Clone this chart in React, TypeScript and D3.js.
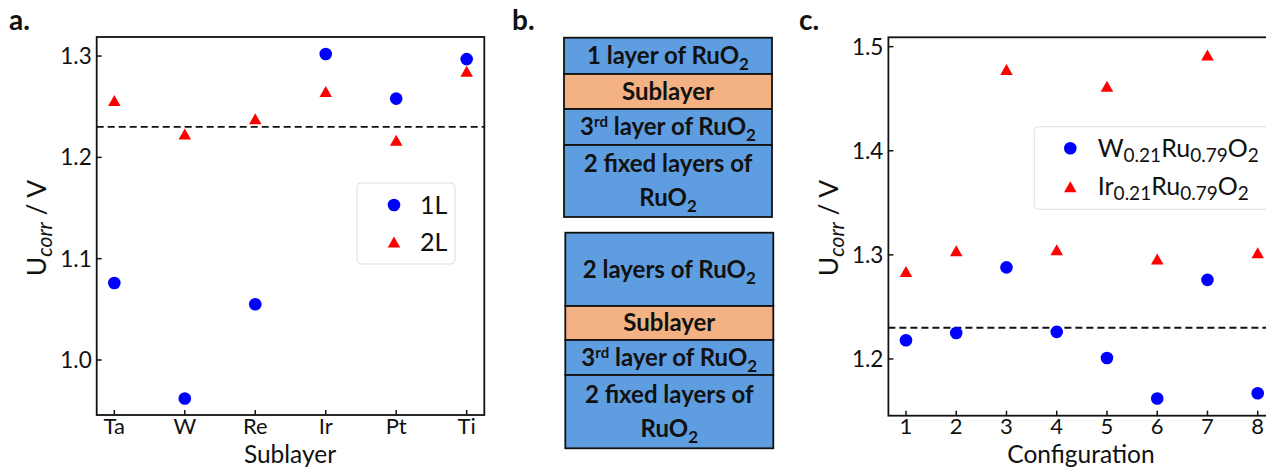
import React from "react";
import * as d3 from "d3";

// Panel a: U_corr per sublayer element, one (1L) and two (2L) top layers
const sublayers = ["Ta", "W", "Re", "Ir", "Pt", "Ti"];
const oneLayer = [1.076, 0.962, 1.055, 1.302, 1.258, 1.297];
const twoLayer = [1.256, 1.223, 1.238, 1.265, 1.217, 1.285];
const ticksA = [1.0, 1.1, 1.2, 1.3];

// Panel c: U_corr per configuration for the two mixed oxides
const configurations = ["1", "2", "3", "4", "5", "6", "7", "8"];
const wRuO2 = [1.218, 1.225, 1.288, 1.226, 1.201, 1.162, 1.276, 1.167];
const irRuO2 = [1.284, 1.304, 1.478, 1.305, 1.462, 1.296, 1.492, 1.302];
const ticksC = [1.2, 1.3, 1.4, 1.5];

// Equilibrium potential reference line
const referencePotential = 1.23;

// Panel b: slab stacks, top to bottom (kind: ru = RuO2 layer, sub = sublayer)
const stackOne = [
  { kind: "ru", label: "1 layer of" },
  { kind: "sub", label: "Sublayer" },
  { kind: "ru", label: "3rd layer of" },
  { kind: "ru", label: "2 fixed layers of" },
];
const stackTwo = [
  { kind: "ru", label: "2 layers of" },
  { kind: "sub", label: "Sublayer" },
  { kind: "ru", label: "3rd layer of" },
  { kind: "ru", label: "2 fixed layers of" },
];

const FONT = "Lato, 'Open Sans', sans-serif";
const BLUE = "#0000FF";
const RED = "#FF0000";
const BOX_BLUE = "#5E9EE0";
const BOX_ORANGE = "#F4B183";
const INK = "#111";

const TICK_FS = 22;
const LABEL_FS = 24.5;

const triPath = (w: number, h: number) =>
  `M0,${-h / 2}L${w / 2},${h / 2}L${-w / 2},${h / 2}Z`;

function Ylabel({ x, y }: { x: number; y: number }) {
  return (
    <text
      transform={`translate(${x},${y}) rotate(-90)`}
      textAnchor="middle"
      fontFamily={FONT}
      fontSize={26.5}
      fill={INK}
    >
      U
      <tspan fontStyle="italic" fontSize={21} dy={6}>
        corr
      </tspan>
      <tspan dy={-6}> / V</tspan>
    </text>
  );
}

type PanelProps = {
  cats: string[];
  padding: number;
  xRange: [number, number];
  yDomain: [number, number];
  yRange: [number, number];
  yTicks: number[];
  circles: number[];
  triangles: number[];
  xLabel: string;
  xLabelX: number;
  clipId: string;
};

function ScatterPanel(p: PanelProps) {
  const x = d3.scalePoint<string>().domain(p.cats).range(p.xRange).padding(p.padding);
  const y = d3.scaleLinear().domain(p.yDomain).range(p.yRange);
  const [x0, x1] = p.xRange;
  const [yb, yt] = p.yRange;
  const fmt = d3.format(".1f");
  const tick = 5;
  return (
    <g>
      <defs>
        <clipPath id={p.clipId}>
          <rect x={x0} y={yt - 10} width={x1 - x0} height={yb - yt + 20} />
        </clipPath>
      </defs>
      <g clipPath={`url(#${p.clipId})`}>
        <line
          x1={x0}
          x2={x1}
          y1={y(referencePotential)}
          y2={y(referencePotential)}
          stroke={INK}
          strokeWidth={1.8}
          strokeDasharray="7,4"
        />
        {p.circles.map((v, i) => (
          <circle key={"c" + i} cx={x(p.cats[i])} cy={y(v)} r={6.3} fill={BLUE} />
        ))}
        {p.triangles.map((v, i) => (
          <path
            key={"t" + i}
            d={triPath(12.5, 11)}
            transform={`translate(${x(p.cats[i])},${y(v)})`}
            fill={RED}
          />
        ))}
      </g>
      {/* inward ticks */}
      {p.yTicks.map((t) => (
        <g key={"yt" + t}>
          <line x1={x0} x2={x0 + tick} y1={y(t)} y2={y(t)} stroke={INK} strokeWidth={1.5} />
          <text
            x={x0 - 5}
            y={y(t)}
            dy="0.35em"
            textAnchor="end"
            fontFamily={FONT}
            fontSize={22.5}
            fill={INK}
          >
            {fmt(t)}
          </text>
        </g>
      ))}
      {p.cats.map((c) => (
        <g key={"xt" + c}>
          <line x1={x(c)} x2={x(c)} y1={yb} y2={yb - tick} stroke={INK} strokeWidth={1.5} />
          <text
            x={x(c)}
            y={yb + 18.5}
            textAnchor="middle"
            fontFamily={FONT}
            fontSize={TICK_FS}
            fill={INK}
          >
            {c}
          </text>
        </g>
      ))}
      <rect
        x={x0}
        y={yt}
        width={x1 - x0}
        height={yb - yt}
        fill="none"
        stroke={INK}
        strokeWidth={1.8}
      />
      <text
        x={p.xLabelX}
        y={462.5}
        textAnchor="middle"
        fontFamily={FONT}
        fontSize={LABEL_FS}
        fill={INK}
      >
        {p.xLabel}
      </text>
    </g>
  );
}

function Formula({ el, x, y }: { el: string; x: number; y: number }) {
  return (
    <text x={x} y={y} dy="0.35em" fontFamily={FONT} fontSize={25} fill={INK}>
      {el}
      <tspan fontSize={19} dy={5}>0.21</tspan>
      <tspan dy={-5}>Ru</tspan>
      <tspan fontSize={19} dy={5}>0.79</tspan>
      <tspan dy={-5}>O</tspan>
      <tspan fontSize={19} dy={5}>2</tspan>
    </text>
  );
}

function LayerLabel({ label, kind, cx, cy }: { label: string; kind: string; cx: number; cy: number }) {
  const common = {
    textAnchor: "middle" as const,
    fontFamily: FONT,
    fontWeight: 700,
    fontSize: 24,
    fill: INK,
  };
  const ruo2 = (
    <>
      RuO<tspan fontSize={17} dy={6}>2</tspan>
    </>
  );
  if (kind === "sub") {
    return (
      <text x={cx} y={cy} dy="0.35em" {...common}>
        {label}
      </text>
    );
  }
  if (label.startsWith("3rd")) {
    return (
      <text x={cx} y={cy} dy="0.35em" {...common}>
        3<tspan fontSize={15} dy={-8}>rd</tspan>
        <tspan dy={8}> layer of </tspan>
        {ruo2}
      </text>
    );
  }
  if (label.startsWith("2 fixed")) {
    return (
      <g>
        <text x={cx} y={cy - 17} dy="0.35em" {...common}>
          {label}
        </text>
        <text x={cx} y={cy + 17} dy="0.35em" {...common}>
          {ruo2}
        </text>
      </g>
    );
  }
  return (
    <text x={cx} y={cy} dy="0.35em" {...common}>
      {label} {ruo2}
    </text>
  );
}

function Stack({
  rows,
  x,
  width,
  bounds,
}: {
  rows: { kind: string; label: string }[];
  x: number;
  width: number;
  bounds: number[];
}) {
  return (
    <g>
      {rows.map((r, i) => {
        const top = bounds[i];
        const bot = bounds[i + 1];
        return (
          <g key={i}>
            <rect
              x={x}
              y={top}
              width={width}
              height={bot - top}
              fill={r.kind === "sub" ? BOX_ORANGE : BOX_BLUE}
              stroke={INK}
              strokeWidth={1.8}
            />
            <LayerLabel label={r.label} kind={r.kind} cx={x + width / 2} cy={(top + bot) / 2} />
          </g>
        );
      })}
    </g>
  );
}

export default function App() {
  const W = 1266;
  const H = 468;
  const panelLabel = { fontFamily: FONT, fontWeight: 700, fontSize: 28, fill: INK };
  return (
    <svg
      width={W}
      height={H}
      viewBox={`0 0 ${W} ${H}`}
      style={{ position: "absolute", left: 0, top: 0, background: "#fff" }}
    >
      <rect width={W} height={H} fill="#fff" />

      {/* panel labels */}
      <text x={9} y={30} {...panelLabel}>a.</text>
      <text x={512} y={30} {...panelLabel}>b.</text>
      <text x={799} y={30} {...panelLabel}>c.</text>

      {/* panel a */}
      <ScatterPanel
        cats={sublayers}
        padding={0.25}
        xRange={[96.7, 484.3]}
        yDomain={[0.9457, 1.3188]}
        yRange={[415, 37]}
        yTicks={ticksA}
        circles={oneLayer}
        triangles={twoLayer}
        xLabel="Sublayer"
        xLabelX={290}
        clipId="clipA"
      />
      <Ylabel x={46} y={228} />
      <g>
        <rect x={357} y={183} width={98} height={81} rx={4} fill="#fff" fillOpacity={0.8} stroke="#ddd" strokeWidth={1} />
        <circle cx={394} cy={205} r={6.3} fill={BLUE} />
        <path d={triPath(12.5, 11)} transform="translate(394,242)" fill={RED} />
        <text x={420} y={205} dy="0.35em" fontFamily={FONT} fontSize={25} fill={INK}>1L</text>
        <text x={420} y={242} dy="0.35em" fontFamily={FONT} fontSize={25} fill={INK}>2L</text>
      </g>

      {/* panel b */}
      <Stack rows={stackOne} x={564} width={208} bounds={[37.7, 74, 109, 145, 217]} />
      <Stack rows={stackTwo} x={565.3} width={208} bounds={[232.7, 306, 340, 375, 448.3]} />

      {/* panel c */}
      <ScatterPanel
        cats={configurations}
        padding={0.35}
        xRange={[888.4, 1275.3]}
        yDomain={[1.1455, 1.509]}
        yRange={[415.7, 37.3]}
        yTicks={ticksC}
        circles={wRuO2}
        triangles={irRuO2}
        xLabel="Configuration"
        xLabelX={1081}
        clipId="clipC"
      />
      <Ylabel x={838} y={228} />
      <g>
        <rect x={1034.3} y={126.7} width={260} height={82.6} rx={4} fill="#fff" fillOpacity={0.8} stroke="#ddd" strokeWidth={1} />
        <circle cx={1070.3} cy={148.3} r={6.3} fill={BLUE} />
        <path d={triPath(12.5, 11)} transform="translate(1070.3,186.7)" fill={RED} />
        <Formula el="W" x={1097.7} y={148.3} />
        <Formula el="Ir" x={1097.7} y={186.7} />
      </g>
    </svg>
  );
}
